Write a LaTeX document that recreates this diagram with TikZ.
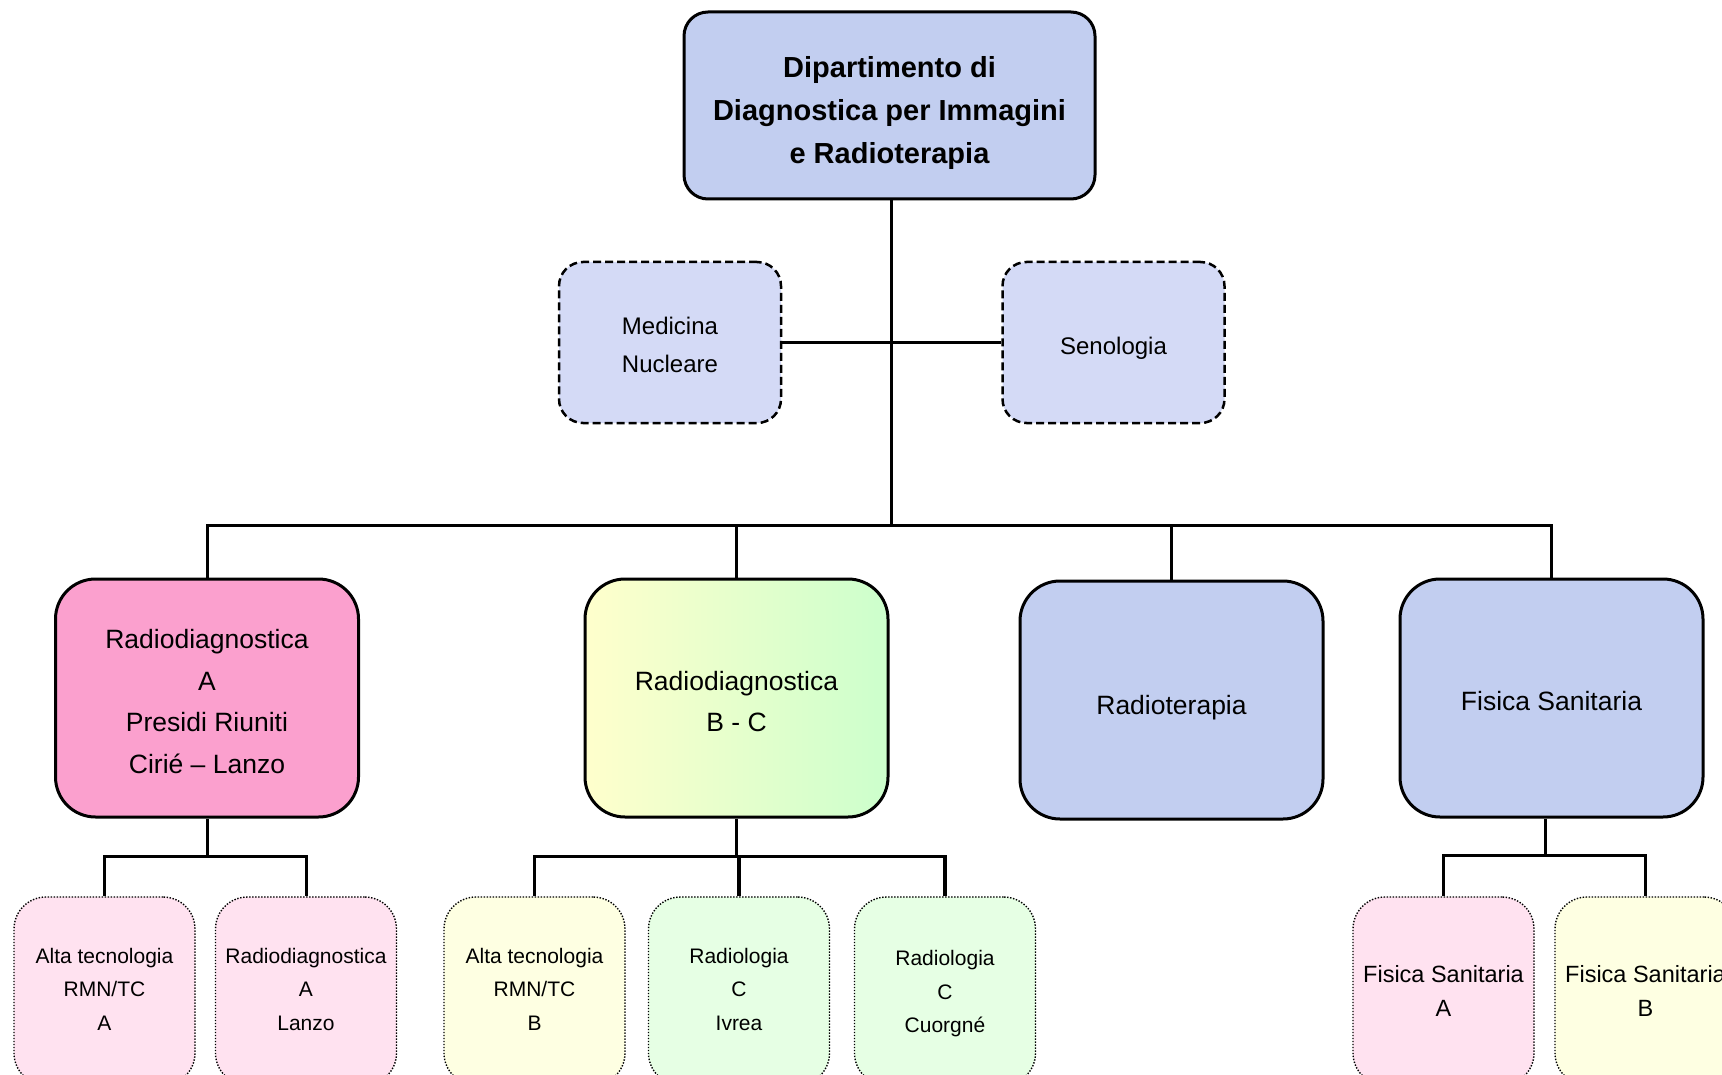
\documentclass[tikz,border=0pt]{standalone}
\usepackage{fontspec}
\setmainfont{Liberation Sans}
\definecolor{blueTex}{RGB}{194,206,240}
\definecolor{blueLight}{RGB}{212,218,246}
\definecolor{pinkMain}{RGB}{251,160,206}
\definecolor{pinkSub}{RGB}{255,226,240}
\definecolor{yellowSub}{RGB}{254,255,226}
\definecolor{greenSub}{RGB}{230,255,228}
\definecolor{yellowGrad}{RGB}{255,255,204}
\definecolor{greenGrad}{RGB}{204,255,204}
% lower a block of centred lines without changing its measured size
\newcommand\lowered[2]{\raisebox{-#1}[\height][\depth]{\begin{tabular}{@{}c@{}}#2\end{tabular}}}
\tikzset{
  topbox/.style={draw, line width=3pt, rounded corners=24pt, fill=blueTex,
    minimum width=411pt, minimum height=187pt, align=center, inner sep=0pt,
    font=\bfseries\fontsize{29}{43}\selectfont},
  sidebox/.style={draw, line width=2.5pt, dash pattern=on 8pt off 4pt, rounded corners=24pt,
    fill=blueLight, minimum width=222pt, minimum height=161pt, align=center, inner sep=0pt,
    font=\fontsize{24}{37.5}\selectfont},
  mainbox/.style={draw, line width=3pt, rounded corners=40pt,
    minimum width=303pt, minimum height=238pt, align=center, inner sep=0pt,
    font=\fontsize{26.5}{41.5}\selectfont},
  subbox/.style={draw, line width=1.4pt, dash pattern=on 1.4pt off 1.6pt, rounded corners=32pt,
    minimum width=181pt, minimum height=188pt, align=center, inner sep=0pt,
    font=\fontsize{21}{33.5}\selectfont},
  fisfont/.style={font=\fontsize{23.5}{34}\selectfont},
  link/.style={line width=3pt},
}
\begin{document}
\begin{tikzpicture}[x=1pt,y=-1pt]
\useasboundingbox (0,0) rectangle (1722,1075);

% top
\node[topbox] (top) at (889.5,105.5) {\lowered{6.5pt}{Dipartimento di\\Diagnostica per Immagini\\e Radioterapia}};

% side boxes
\node[sidebox] (med) at (670,342.5) {\lowered{3.5pt}{Medicina\\Nucleare}};
\node[sidebox] (sen) at (1113.5,342.5) {\lowered{5pt}{Senologia}};

% level 2
\node[mainbox, fill=pinkMain] (radA) at (207,698) {\lowered{4.5pt}{Radiodiagnostica\\A\\Presidi Riuniti\\Cirié – Lanzo}};
\node[mainbox, left color=yellowGrad, right color=greenGrad] (bc) at (736.5,698) {\lowered{4.5pt}{Radiodiagnostica\\B - C}};
\node[mainbox, fill=blueTex] (rt) at (1171.5,700) {\lowered{6pt}{Radioterapia}};
\node[mainbox, fill=blueTex] (fis) at (1551.5,698) {\lowered{4.5pt}{Fisica Sanitaria}};

% level 3
\node[subbox, fill=pinkSub] (altaA) at (104.5,991) {\lowered{-1pt}{Alta tecnologia\\RMN/TC\\A}};
\node[subbox, fill=pinkSub] (lanzo) at (306,991) {\lowered{-1pt}{Radiodiagnostica\\A\\Lanzo}};
\node[subbox, fill=yellowSub] (altaB) at (534.5,991) {\lowered{-1pt}{Alta tecnologia\\RMN/TC\\B}};
\node[subbox, fill=greenSub] (ivrea) at (739,991) {\lowered{-1pt}{Radiologia\\C\\Ivrea}};
\node[subbox, fill=greenSub] (cuorgne) at (945,991) {\lowered{1.5pt}{Radiologia\\C\\Cuorgné}};
\node[subbox, fill=pinkSub, fisfont] (fisA) at (1443.5,991) {Fisica Sanitaria\\A};
\node[subbox, fill=yellowSub, fisfont] (fisB) at (1645.5,991) {Fisica Sanitaria\\B};

% connectors
\coordinate (bar) at (891,525);
\draw[link] (top.south -| bar) -- (bar);
\draw[link] (med.east) -- (sen.west);
\draw[link] (radA.north) |- (bar) -| (fis.north);
\draw[link] (bc.north) -- (bc.north |- bar);
\draw[link] (rt.north) -- (rt.north |- bar);

\draw[link] (radA.south) -- ++(0,38) coordinate (ja);
\draw[link] (altaA.north) |- (ja) -| (lanzo.north);

\draw[link, line width=3.6pt] (bc.south) -- ++(0,38) coordinate (jb);
\draw[link, line width=3.6pt] (altaB.north) |- (jb) -| (cuorgne.north);
\draw[link, line width=3.6pt] (ivrea.north) -- (ivrea.north |- jb);

\draw[link] ([xshift=-6.5pt]fis.south) -- ++(0,37) coordinate (jf);
\draw[link] (fisA.north) |- (jf) -| (fisB.north);
\end{tikzpicture}
\end{document}
